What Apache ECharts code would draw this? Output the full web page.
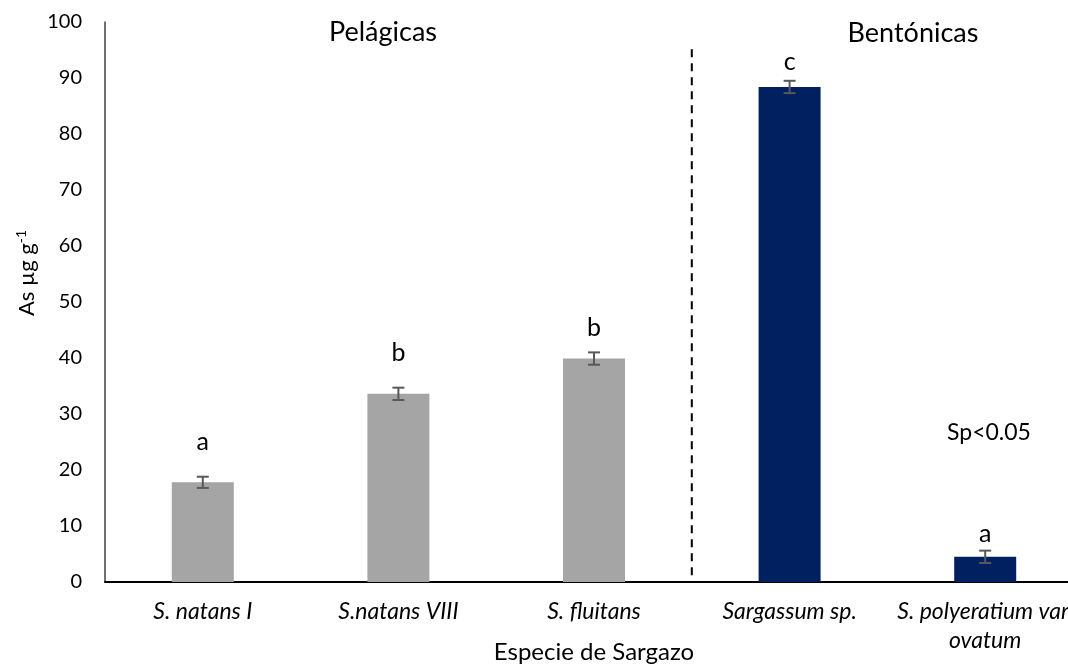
<!DOCTYPE html>
<html>
<head>
<meta charset="utf-8">
<script src="https://cdn.jsdelivr.net/npm/echarts@6/dist/echarts.min.js"></script>
<style>
  html, body { margin: 0; padding: 0; background: #fff; }
  #main { width: 1068px; height: 666px; }
</style>
</head>
<body>
<div id="main"></div>
<script>
// species on the x axis
const species = ['S. natans I', 'S.natans VIII', 'S. fluitans', 'Sargassum sp.', 'S. polyeratium var.\novatum'];
// As ug/g, mean and error
const meanValues = [17.8, 33.6, 39.9, 88.4, 4.5];
const errValues = [1.0, 1.1, 1.1, 1.1, 1.1];
// group of each species: 0 pelagic, 1 benthic
const groupOf = [0, 0, 0, 1, 1];
const groupColors = ['#A5A5A5', '#002060'];
// significance letters and where they sit (axis units)
const letters = ['a', 'b', 'b', 'c', 'a'];
const letterAt = [25, 40.9, 45.4, 92.9, 8.6];
const yTicks = { min: 0, max: 100, step: 10 };

const FONT = 'Lato';

const chart = echarts.init(document.getElementById('main'), null, { renderer: 'canvas' });

const option = {
  backgroundColor: '#ffffff',
  animation: false,
  grid: { left: 105, top: 22, width: 978, bottom: 84, containLabel: false, outerBoundsMode: 'none' },
  xAxis: {
    type: 'category',
    data: species,
    axisLine: { lineStyle: { color: '#000', width: 2 } },
    axisTick: { show: false },
    axisLabel: {
      interval: 0,
      margin: 15,
      fontFamily: FONT,
      fontStyle: 'italic',
      fontSize: 23,
      lineHeight: 29,
      color: '#000'
    },
    name: 'Especie de Sargazo',
    nameLocation: 'middle',
    nameGap: 58,
    nameMoveOverlap: false,
    nameTextStyle: { fontFamily: FONT, fontSize: 24, color: '#000' }
  },
  yAxis: {
    type: 'value',
    min: yTicks.min,
    max: yTicks.max,
    interval: yTicks.step,
    axisLine: { show: true, lineStyle: { color: '#404040', width: 1.5 } },
    axisTick: { show: false },
    splitLine: { show: false },
    axisLabel: { margin: 23, fontFamily: FONT, fontSize: 20, color: '#000' }
  },
  graphic: [
    {
      type: 'text', x: 27, y: 273, rotation: Math.PI / 2,
      style: {
        text: '{n|As µg g}{s|-1}',
        align: 'center', verticalAlign: 'middle',
        rich: {
          n: { fontFamily: FONT, fontSize: 22, fill: '#000' },
          s: { fontFamily: FONT, fontSize: 14, fill: '#000', verticalAlign: 'top', padding: [0, 0, 12, 0] }
        }
      }
    },
    { type: 'text', x: 383, y: 32, style: { text: 'Pelágicas', fontFamily: FONT, fontSize: 27, fill: '#000', align: 'center', verticalAlign: 'middle' } },
    { type: 'text', x: 913, y: 33, style: { text: 'Bentónicas', fontFamily: FONT, fontSize: 27, fill: '#000', align: 'center', verticalAlign: 'middle' } },
    { type: 'text', x: 989, y: 433, style: { text: 'Sp<0.05', fontFamily: FONT, fontSize: 23, fill: '#000', align: 'center', verticalAlign: 'middle' } }
  ],
  series: [
    {
      type: 'bar',
      barWidth: 62,
      data: meanValues.map((v, i) => ({ value: v, itemStyle: { color: groupColors[groupOf[i]] } }))
    },
    {
      // error bars
      type: 'custom',
      data: meanValues.map((v, i) => [i, v - errValues[i], v + errValues[i]]),
      renderItem: function (params, api) {
        const lo = api.coord([api.value(0), api.value(1)]);
        const hi = api.coord([api.value(0), api.value(2)]);
        const half = 6;
        const st = { stroke: '#595959', lineWidth: 2 };
        return {
          type: 'group',
          children: [
            { type: 'line', shape: { x1: lo[0], y1: lo[1], x2: hi[0], y2: hi[1] }, style: st },
            { type: 'line', shape: { x1: lo[0] - half, y1: lo[1], x2: lo[0] + half, y2: lo[1] }, style: st },
            { type: 'line', shape: { x1: hi[0] - half, y1: hi[1], x2: hi[0] + half, y2: hi[1] }, style: st }
          ]
        };
      },
      z: 5
    },
    {
      // significance letters
      type: 'custom',
      data: letterAt.map((v, i) => [i, v]),
      renderItem: function (params, api) {
        const p = api.coord([api.value(0), api.value(1)]);
        return {
          type: 'text', x: p[0], y: p[1],
          style: { text: letters[params.dataIndex], fontFamily: FONT, fontSize: 25, fill: '#000', align: 'center', verticalAlign: 'middle' }
        };
      }
    },
    {
      // dashed separator between pelagic and benthic
      type: 'custom',
      data: [[2, 3, 1.2, 95.5]],
      renderItem: function (params, api) {
        const a = api.coord([api.value(0), api.value(2)]);
        const b = api.coord([api.value(1), api.value(3)]);
        const x = (a[0] + b[0]) / 2;
        return {
          type: 'line',
          shape: { x1: x, y1: a[1], x2: x, y2: b[1] },
          style: { stroke: '#000', lineWidth: 2, lineDash: [8, 6] }
        };
      }
    }
  ]
};

chart.setOption(option);
</script>
</body>
</html>
